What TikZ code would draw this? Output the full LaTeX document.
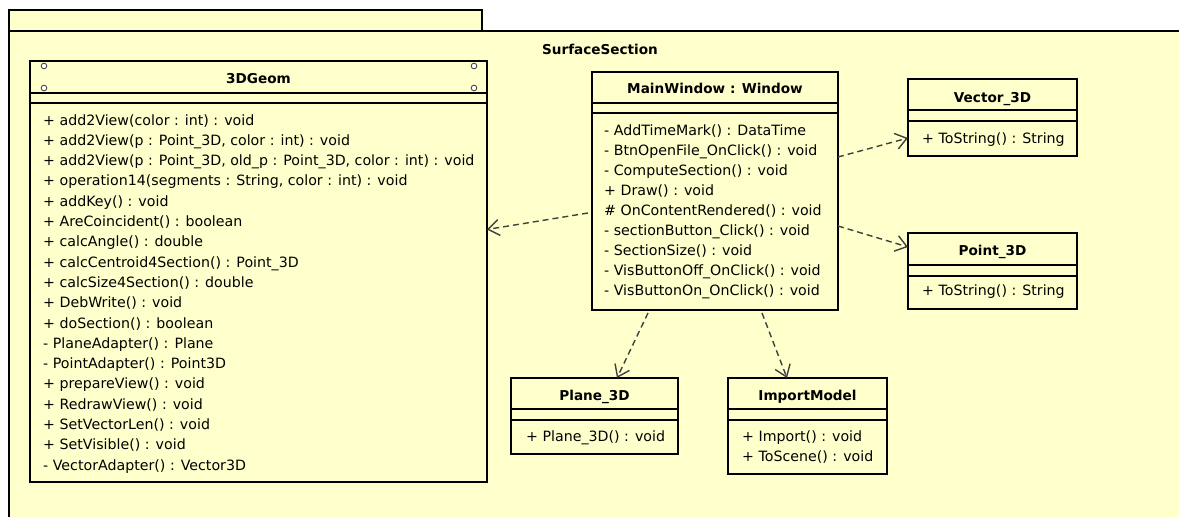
\documentclass[tikz,border=0pt]{standalone}
\usepackage{fontspec}
\setmainfont{DejaVu Sans}
\usetikzlibrary{arrows.meta}
\definecolor{umlfill}{HTML}{FFFFCC}
\definecolor{deparrow}{HTML}{404040}
\tikzset{
  x=1pt, y=-1pt,
  pkg/.style={draw=black, line width=2.8pt, fill=umlfill},
  cls/.style={draw=black, line width=2.8pt, fill=umlfill, inner sep=0pt, outer sep=0pt, anchor=north west},
  sepline/.style={draw=black, line width=1.4pt},
  ttl/.style={font=\fontsize{13.6}{16}\selectfont\bfseries, inner sep=0pt, anchor=base},
  mth/.style={font=\fontsize{14.2}{17}\selectfont, inner sep=0pt, anchor=base west},
  dep/.style={draw=deparrow, line width=1.4pt, dash pattern=on 6pt off 4pt, -{Straight Barb[length=11pt,width=16pt,line width=1.4pt]}},
  knob/.style={draw=black!70, fill=white, line width=0.9pt}
}
\begin{document}
\begin{tikzpicture}
\clip (0,0) rectangle (1179,517);
\fill[white] (0,0) rectangle (1179,517);
% package
\draw[pkg] (9,10) rectangle (482,31);
\draw[pkg] (9,31) rectangle (1200,540);
\node[ttl] (pkgname) at (600,54) {SurfaceSection};

% 3DGeom
\node[cls, minimum width=457pt, minimum height=421pt] (geom) at (30,61) {};
\draw[sepline] ([yshift=-32pt]geom.north west) -- ([yshift=-32pt]geom.north east);
\draw[sepline] ([yshift=-42pt]geom.north west) -- ([yshift=-42pt]geom.north east);
\foreach \cx/\cy in {44/66, 44/88, 474/66, 474/88}{\draw[knob] (\cx,\cy) circle (2.8);}
\node[ttl] (geomt) at (258.5,83) {3DGeom};
\node[mth] (g1) at (43,125.0) {+ add2View(color : int) : void};
\node[mth] (g2) at (43,145.3) {+ add2View(p : Point\_3D, color : int) : void};
\node[mth] (g3) at (43,165.6) {+ add2View(p : Point\_3D, old\_p : Point\_3D, color : int) : void};
\node[mth] (g4) at (43,185.9) {+ operation14(segments : String, color : int) : void};
\node[mth] (g5) at (43,206.2) {+ addKey() : void};
\node[mth] (g6) at (43,226.5) {+ AreCoincident() : boolean};
\node[mth] (g7) at (43,246.8) {+ calcAngle() : double};
\node[mth] (g8) at (43,267.1) {+ calcCentroid4Section() : Point\_3D};
\node[mth] (g9) at (43,287.4) {+ calcSize4Section() : double};
\node[mth] (g10) at (43,307.7) {+ DebWrite() : void};
\node[mth] (g11) at (43,328.0) {+ doSection() : boolean};
\node[mth] (g12) at (43,348.3) {- PlaneAdapter() : Plane};
\node[mth] (g13) at (43,368.6) {- PointAdapter() : Point3D};
\node[mth] (g14) at (43,388.9) {+ prepareView() : void};
\node[mth] (g15) at (43,409.2) {+ RedrawView() : void};
\node[mth] (g16) at (43,429.5) {+ SetVectorLen() : void};
\node[mth] (g17) at (43,449.8) {+ SetVisible() : void};
\node[mth] (g18) at (43,470.1) {- VectorAdapter() : Vector3D};

% MainWindow
\node[cls, minimum width=246pt, minimum height=238pt] (mw) at (592,72) {};
\draw[sepline] ([yshift=-31pt]mw.north west) -- ([yshift=-31pt]mw.north east);
\draw[sepline] ([yshift=-41pt]mw.north west) -- ([yshift=-41pt]mw.north east);
\node[ttl] (mwt) at (715,93) {MainWindow : Window};
\node[mth] (m1) at (604,135.0) {- AddTimeMark() : DataTime};
\node[mth] (m2) at (604,155.1) {- BtnOpenFile\_OnClick() : void};
\node[mth] (m3) at (604,175.2) {- ComputeSection() : void};
\node[mth] (m4) at (604,195.3) {+ Draw() : void};
\node[mth] (m5) at (604,215.4) {\# OnContentRendered() : void};
\node[mth] (m6) at (604,235.5) {- sectionButton\_Click() : void};
\node[mth] (m7) at (604,255.6) {- SectionSize() : void};
\node[mth] (m8) at (604,275.7) {- VisButtonOff\_OnClick() : void};
\node[mth] (m9) at (604,295.8) {- VisButtonOn\_OnClick() : void};

% Vector_3D
\node[cls, minimum width=169pt, minimum height=77pt] (vec) at (908,79) {};
\draw[sepline] ([yshift=-31pt]vec.north west) -- ([yshift=-31pt]vec.north east);
\draw[sepline] ([yshift=-42pt]vec.north west) -- ([yshift=-42pt]vec.north east);
\node[ttl] (vect) at (992.5,102) {Vector\_3D};
\node[mth] (v1) at (922,143) {+ ToString() : String};

% Point_3D
\node[cls, minimum width=169pt, minimum height=76pt] (pt) at (908,233) {};
\draw[sepline] ([yshift=-32pt]pt.north west) -- ([yshift=-32pt]pt.north east);
\draw[sepline] ([yshift=-43pt]pt.north west) -- ([yshift=-43pt]pt.north east);
\node[ttl] (ptt) at (992.5,255) {Point\_3D};
\node[mth] (p1) at (922,295) {+ ToString() : String};

% Plane_3D
\node[cls, minimum width=167pt, minimum height=76pt] (pl) at (511,378) {};
\draw[sepline] ([yshift=-31pt]pl.north west) -- ([yshift=-31pt]pl.north east);
\draw[sepline] ([yshift=-42pt]pl.north west) -- ([yshift=-42pt]pl.north east);
\node[ttl] (plt) at (594.5,400) {Plane\_3D};
\node[mth] (pl1) at (526,441) {+ Plane\_3D() : void};

% ImportModel
\node[cls, minimum width=159pt, minimum height=96pt] (imp) at (728,378) {};
\draw[sepline] ([yshift=-31pt]imp.north west) -- ([yshift=-31pt]imp.north east);
\draw[sepline] ([yshift=-42pt]imp.north west) -- ([yshift=-42pt]imp.north east);
\node[ttl] (impt) at (807.5,400) {ImportModel};
\node[mth] (i1) at (742,441) {+ Import() : void};
\node[mth] (i2) at (742,461) {+ ToScene() : void};

% dependencies
\draw[dep] ([xshift=-4pt,yshift=-22pt]mw.west) -- ([yshift=42pt]geom.east);
\draw[dep] ([yshift=34pt]mw.east) -- ([yshift=-20.5pt]vec.west);
\draw[dep] ([yshift=-35pt]mw.east) -- ([yshift=24pt]pt.west);
\draw[dep] ([xshift=-67pt,yshift=-3pt]mw.south) -- ([xshift=22.5pt]pl.north);
\draw[dep] ([xshift=47pt,yshift=-3pt]mw.south) -- ([xshift=-20.5pt]imp.north);
\end{tikzpicture}
\end{document}
